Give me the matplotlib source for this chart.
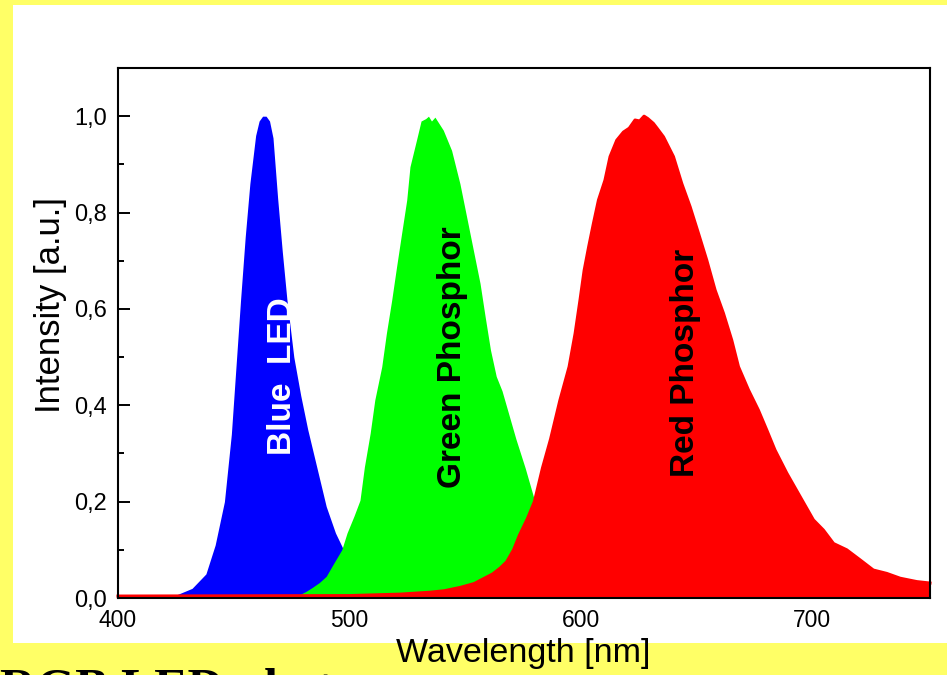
import numpy as np
import matplotlib
matplotlib.use("Agg")
import matplotlib.pyplot as plt
from matplotlib.patches import Rectangle
from matplotlib.ticker import MultipleLocator, FuncFormatter

# spectra (wavelength nm, normalised intensity)
blue_wl = [400, 415, 425, 432, 438, 442, 446, 449, 451, 453, 455, 457, 459.5, 461, 462.5,
           464, 465.5, 467, 469, 471, 473, 476, 479, 482, 486, 490, 494, 498, 502, 510,
           520, 535, 560, 750]
blue_i = [0.003, 0.003, 0.006, 0.02, 0.05, 0.11, 0.2, 0.34, 0.48, 0.62, 0.75, 0.86, 0.96, 0.99, 1.0,
          1.0, 0.99, 0.955, 0.83, 0.72, 0.62, 0.5, 0.42, 0.35, 0.27, 0.19, 0.135, 0.095, 0.065, 0.035,
          0.018, 0.008, 0.003, 0.0]

green_wl = [400, 470, 478, 481, 484, 487, 490, 493, 496.7, 499, 502, 504.6, 506.5, 509, 511, 514,
            516, 518.3, 520.4, 522.6, 524.8, 526.2, 529, 531, 533, 534.2, 535.5, 537, 540.6, 544.2,
            547.8, 550.7, 553.6, 556.5, 558.7, 561, 563.5, 566, 569, 572, 576, 579, 582, 586, 590,
            595, 600, 610, 630, 750]
green_i = [0.0, 0.002, 0.006, 0.013, 0.022, 0.032, 0.045, 0.07, 0.1, 0.135, 0.17, 0.203, 0.272, 0.342, 0.411, 0.48,
           0.549, 0.618, 0.687, 0.757, 0.826, 0.895, 0.95, 0.99, 0.995, 1.0, 0.99, 0.998, 0.971, 0.929,
           0.86, 0.791, 0.722, 0.653, 0.584, 0.515, 0.46, 0.43, 0.38, 0.33, 0.27, 0.22, 0.17, 0.12, 0.08,
           0.05, 0.03, 0.015, 0.005, 0.0]

red_wl = [400, 500, 522, 535, 541, 548, 554, 558, 562, 565.2, 568, 571, 573.5, 577, 580, 583.5, 587,
          591, 595, 597.6, 599.7, 601.5, 603.5, 605.5, 607.7, 610.5, 612.7, 615.6, 618.5, 621, 623.5,
          625.5, 627.4, 629, 631.4, 633, 635.8, 640.1, 643.7, 647.3, 650.9, 654.5, 658.1, 661.7,
          665.3, 668.2, 672.5, 676.8, 680.4, 684, 689.1, 694.9, 700.6, 704.9, 709.3, 715, 720.8,
          726.5, 732.3, 738.1, 745.3, 751]
red_i = [0.004, 0.005, 0.008, 0.012, 0.015, 0.022, 0.03, 0.04, 0.05, 0.062, 0.075, 0.1, 0.13, 0.165, 0.2, 0.27, 0.33,
         0.41, 0.48, 0.549, 0.618, 0.68, 0.73, 0.777, 0.826, 0.867, 0.916, 0.95, 0.967, 0.975, 0.992,
         0.99, 1.0, 0.995, 0.985, 0.975, 0.957, 0.916, 0.86, 0.812, 0.757, 0.701, 0.639, 0.591,
         0.535, 0.48, 0.432, 0.39, 0.349, 0.307, 0.259, 0.21, 0.162, 0.141, 0.113, 0.1, 0.079,
         0.058, 0.051, 0.041, 0.034, 0.031]

fig = plt.figure(figsize=(9.47, 6.75), dpi=100, facecolor='#FFFF66')
plt.rcParams['font.family'] = ['Liberation Sans', 'DejaVu Sans']

# white panel of the pasted chart
fig.patches.append(Rectangle((13/947, 32/675), 1.0, 638/675, transform=fig.transFigure,
                             facecolor='white', edgecolor='none', zorder=-5))

# slide title peeking in at the bottom
fig.text(0.0, -0.041, 'RGB LED photo', fontsize=36, fontweight='bold',
         family=['Liberation Serif', 'DejaVu Serif'], va='baseline', ha='left', zorder=-4)

ax = fig.add_axes([118/947, 77/675, 812/947, 530/675])
ax.set_facecolor('none')

ax.fill_between(blue_wl, blue_i, color='#0000FF', lw=0, zorder=2)
ax.fill_between(green_wl, green_i, color='#00FF00', lw=0, zorder=3)
ax.fill_between(red_wl, red_i, color='#FF0000', lw=0, zorder=4, clip_on=False)
ax.plot(red_wl, red_i, color='#FF0000', lw=2.2, zorder=4, clip_on=False)

ax.text(471.3, 0.46, 'Blue  LED', color='white', fontsize=24, fontweight='bold',
        rotation=90, ha='center', va='center', zorder=5)
ax.text(544.4, 0.50, 'Green Phosphor', color='black', fontsize=24, fontweight='bold',
        rotation=90, ha='center', va='center', zorder=5)
ax.text(645.1, 0.488, 'Red Phosphor', color='black', fontsize=24, fontweight='bold',
        rotation=90, ha='center', va='center', zorder=5)

ax.set_xlim(400, 751)
ax.set_ylim(0, 1.1)
ax.xaxis.set_major_locator(MultipleLocator(100))
ax.xaxis.set_minor_locator(MultipleLocator(50))
ax.yaxis.set_major_locator(MultipleLocator(0.2))
ax.yaxis.set_minor_locator(MultipleLocator(0.1))
ax.yaxis.set_major_formatter(FuncFormatter(lambda v, p: ('%.1f' % v).replace('.', ',')))

ax.tick_params(which='both', direction='in', width=1.4, top=False, right=False)
ax.tick_params(which='major', length=8.4)
ax.tick_params(which='minor', length=4.3)
ax.tick_params(axis='x', labelsize=16.5, pad=8)
ax.tick_params(axis='y', labelsize=17, pad=8)
for s in ax.spines.values():
    s.set_linewidth(1.5)
    s.set_zorder(6)

ax.set_xlabel('Wavelength [nm]', fontsize=24.5)
ax.xaxis.set_label_coords(0.499, -0.076)
ax.set_ylabel('Intensity [a.u.]', fontsize=25)
ax.yaxis.set_label_coords(-0.063, 0.552)

fig.savefig('out.png', dpi=100, facecolor=fig.get_facecolor())
